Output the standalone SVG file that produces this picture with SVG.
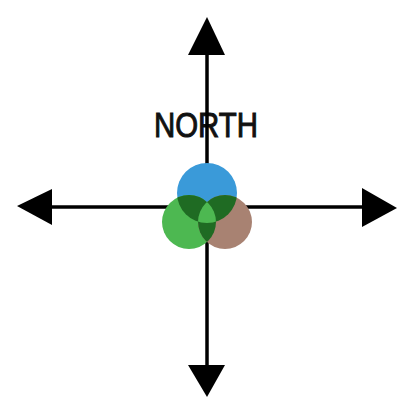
<svg xmlns="http://www.w3.org/2000/svg" width="405" height="405" viewBox="0 0 405 405">
<style>
.ax{stroke:#000;stroke-width:3.5;fill:none}
.ah{fill:#000}
.lbl{font-family:"Liberation Sans",Arial,sans-serif;font-size:35px;fill:#111;stroke:#111;stroke-width:1}
</style>
<defs>
<clipPath id="cB"><circle cx="207" cy="193" r="30"/></clipPath>
<clipPath id="cG"><circle cx="189" cy="222" r="27"/></clipPath>
<clipPath id="cR"><circle cx="225" cy="222" r="27"/></clipPath>
</defs>
<rect width="405" height="405" fill="#fff"/>
<g id="label"><text class="lbl" x="206" y="137" text-anchor="middle" textLength="104" lengthAdjust="spacingAndGlyphs">NORTH</text></g>
<g id="connectors">
<line class="ax" x1="207" y1="50" x2="207" y2="370"/>
<line class="ax" x1="45" y1="207" x2="368" y2="207"/>
<polygon class="ah" points="207,17 225,55 188,55"/>
<polygon class="ah" points="207,397 225,365 188,365"/>
<polygon class="ah" points="17,206 52,189 52,225"/>
<polygon class="ah" points="397,208 362,188 362,227"/>
</g>
<g id="circles">
<circle cx="207" cy="193" r="30" fill="#3a9ad9"/>
<circle cx="189" cy="222" r="27" fill="#4db851"/>
<circle cx="225" cy="222" r="27" fill="#a88272"/>
<g fill="#1f6b23">
<circle cx="189" cy="222" r="27" clip-path="url(#cB)"/>
<circle cx="225" cy="222" r="27" clip-path="url(#cB)"/>
<circle cx="225" cy="222" r="27" clip-path="url(#cG)"/>
</g>
<g clip-path="url(#cB)"><circle cx="225" cy="222" r="27" fill="#4db851" clip-path="url(#cG)"/></g>
</g>
</svg>
